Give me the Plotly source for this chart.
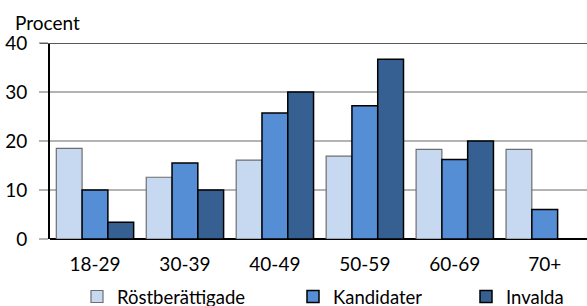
import plotly.graph_objects as go

categories = ["18-29", "30-39", "40-49", "50-59", "60-69", "70+"]
rostberattigade = [18.5, 12.6, 16.1, 16.9, 18.3, 18.3]
kandidater = [10.0, 15.5, 25.7, 27.2, 16.2, 6.0]
invalda = [3.4, 10.0, 30.0, 36.7, 20.0, None]
y_ticks = [0, 10, 20, 30, 40]

FONT = "Lato"
FS = 19

fig = go.Figure()
fig.add_trace(go.Bar(x=categories, y=rostberattigade, name="Röstberättigade", legend="legend",
                     marker=dict(color="#C6D9F1", line=dict(color="#6E6E6E", width=1.2))))
fig.add_trace(go.Bar(x=categories, y=kandidater, name="Kandidater", legend="legend2",
                     marker=dict(color="#558ED5", line=dict(color="#000000", width=1.5))))
fig.add_trace(go.Bar(x=categories, y=invalda, name="Invalda", legend="legend3",
                     marker=dict(color="#376092", line=dict(color="#000000", width=1.5))))

def leg(xpx):
    return dict(orientation="h", x=xpx / 587, xref="container", xanchor="left",
                y=(306 - 297) / 306, yref="container", yanchor="middle",
                font=dict(size=18.5), itemwidth=30, bgcolor="rgba(0,0,0,0)")

fig.update_layout(
    width=587, height=306,
    margin=dict(l=50, r=0, t=43, b=67),
    paper_bgcolor="white", plot_bgcolor="white",
    barmode="group", bargap=0.14, bargroupgap=0,
    font=dict(family=FONT, size=FS, color="#000000"),
    showlegend=True,
    legend=leg(77), legend2=leg(293), legend3=leg(466),
    xaxis=dict(type="category", range=[-0.5, 5.47], showgrid=False, automargin=False,
               showline=False, ticks="", tickfont=dict(size=FS), ticklabelstandoff=12),
    yaxis=dict(range=[0, 40], tickvals=y_ticks, showgrid=True, gridcolor="#B3B3B3",
               gridwidth=1.5, ticks="outside", ticklen=9, tickcolor="#B3B3B3", tickwidth=1.5,
               showline=True, linecolor="#000000", linewidth=1.7, automargin=False,
               zeroline=True, zerolinecolor="#000000", zerolinewidth=1.7,
               tickfont=dict(size=FS), ticklabelstandoff=8),
    annotations=[dict(text="Procent", xref="paper", yref="paper", x=-37 / 537, y=1.107,
                      xanchor="left", yanchor="middle", showarrow=False,
                      font=dict(size=FS))],
    shapes=[dict(type="line", xref="paper", yref="y", x0=-10 / 537, x1=1, y0=40, y1=40,
                 line=dict(color="#5A5A5A", width=2))],
)

fig.write_html("out.html", config={"displayModeBar": False},
               post_script="document.body.style.margin='0px';")
